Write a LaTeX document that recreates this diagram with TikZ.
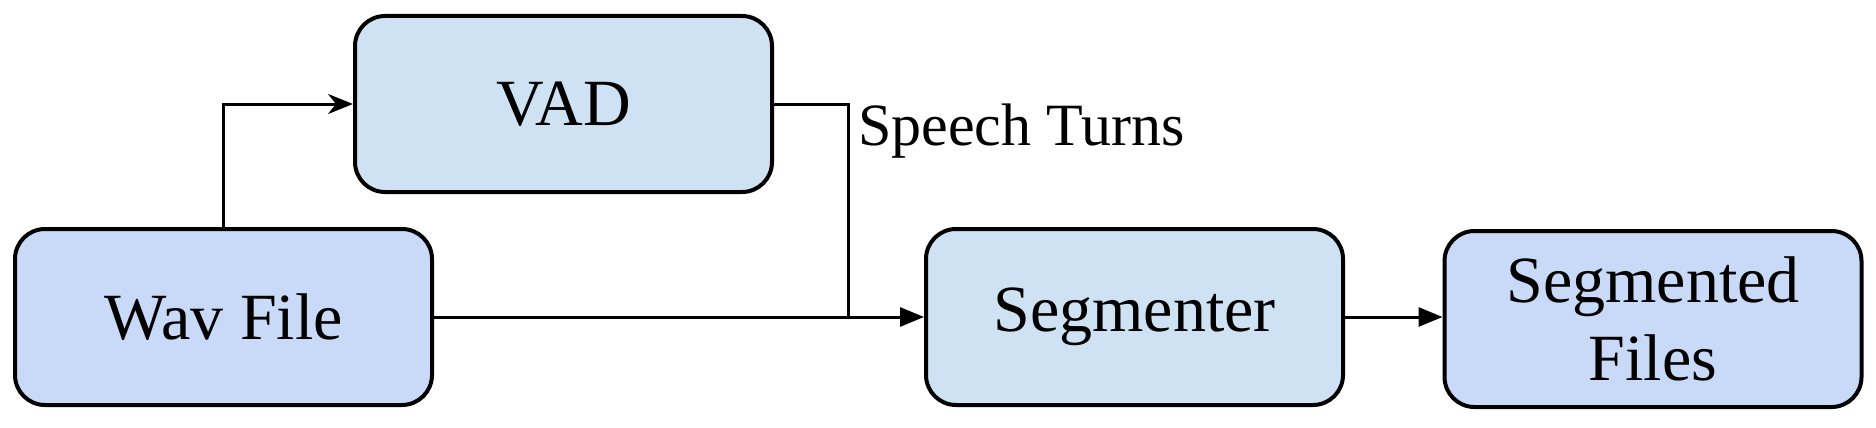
\documentclass[tikz,border=0pt]{standalone}
\usepackage{fontspec}
\setmainfont{Liberation Serif}
\usetikzlibrary{arrows.meta}
\definecolor{boxA}{HTML}{C9DAF8}
\definecolor{boxB}{HTML}{CFE2F3}
\tikzset{
  blk/.style={draw=black, line width=4pt, rounded corners=30pt, minimum width=417pt, minimum height=176pt, inner sep=0pt, align=center, font=\fontsize{66}{78}\selectfont},
  conn/.style={draw=black, line width=3pt},
  tipT/.style={-{Triangle[length=24pt,width=19pt]}},
  tipS/.style={-{Stealth[length=25pt,width=20pt,inset=8pt]}}
}
\begin{document}
\begin{tikzpicture}[x=1pt,y=-1pt]
\useasboundingbox (0,0) rectangle (1876,428);
\node[blk, fill=boxA] (wav) at (223.5,317) {Wav File};
\node[blk, fill=boxB] (vad) at (563.5,104) {VAD};
\node[blk, fill=boxB] (seg) at (1134.5,317) {Segmenter};
\node[blk, fill=boxA] (out) at (1653,319) {Segmented\\Files};
\coordinate (bend) at (848,317);
\node[anchor=west, inner sep=0pt, font=\fontsize{60}{68}\selectfont] (lab) at (858,131) {Speech Turns};
\draw[conn, tipS] (wav.north) |- (vad.west);
\draw[conn] (vad.east) -| (bend);
\draw[conn, tipT] (wav.east) -- (seg.west);
\draw[conn, tipT] (seg.east) -- (out.west |- seg.east);
\end{tikzpicture}
\end{document}
